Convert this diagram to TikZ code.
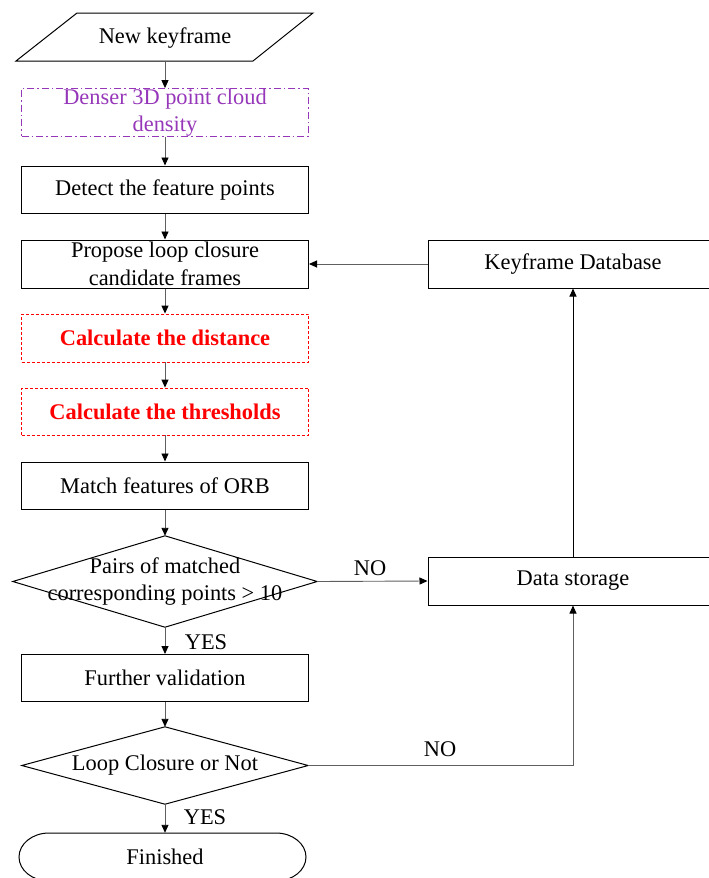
\documentclass[tikz,border=0pt]{standalone}
\usepackage{fontspec}
\setmainfont{Liberation Serif}
\usetikzlibrary{arrows.meta}
\definecolor{purp}{RGB}{150,55,185}
\definecolor{lnk}{RGB}{95,95,95}
\begin{document}
\begin{tikzpicture}[x=1pt,y=-1pt,
  every node/.style={font=\fontsize{22.4}{27.5}\selectfont, align=center, inner sep=0pt},
  box/.style={draw=black, line width=1pt, minimum width=287pt, minimum height=47pt},
  rbox/.style={draw=red, line width=0.9pt, dash pattern=on 3pt off 2pt, minimum width=287pt, minimum height=47pt, text=red, font=\fontsize{22.4}{27.5}\selectfont\bfseries},
  pbox/.style={draw=purp, line width=0.9pt, dash pattern=on 7pt off 3pt on 1.5pt off 3pt, minimum width=287pt, minimum height=47pt, text=purp},
  sbox/.style={draw=black, line width=1pt, minimum width=290pt, minimum height=48pt},
  outline/.style={draw=black, line width=1pt},
  conn/.style={draw=lnk, line width=0.9pt, -{Triangle[length=8pt,width=7pt,color=black]}},
  lbl/.style={font=\fontsize{22.4}{27.5}\selectfont}
]
\useasboundingbox (0,0) rectangle (709,878);
% start
\node[minimum width=236pt, minimum height=48pt] (nk) at (165,38) {New keyframe};
\draw[outline] (77,13) -- (313,13) -- (253,61) -- (16,61) -- cycle;
\node[pbox] (dense) at (165,112.5) {Denser 3D point cloud\\density};
\node[box] (detect) at (165,189.5) {Detect the feature points};
\node[box, minimum height=48pt] (prop) at (165,264) {Propose loop closure\\candidate frames};
\node[rbox, minimum height=48pt] (dist) at (165,338) {Calculate the distance};
\node[rbox] (thr) at (165,411.5) {Calculate the thresholds};
\node[box] (match) at (165,485.5) {Match features of ORB};
\node[minimum width=304pt, minimum height=91pt] (d1) at (165,581.5) {Pairs of matched\\corresponding points > 10};
\draw[outline] (d1.north) -- (d1.east) -- (d1.south) -- (d1.west) -- cycle;
\node[box] (fv) at (165,678) {Further validation};
\node[minimum width=286pt, minimum height=77pt] (d2) at (165,765.5) {Loop Closure or Not};
\draw[outline] (d2.north) -- (d2.east) -- (d2.south) -- (d2.west) -- cycle;
\node[minimum width=287pt, minimum height=48pt] (fin) at (165,857) {Finished};
\draw[outline] (49,833) -- (276,833) arc[start angle=-90, end angle=90, x radius=30, y radius=24] -- (49,881) arc[start angle=90, end angle=270, x radius=30, y radius=24] -- cycle;
\node[sbox] (kdb) at (573,264) {Keyframe Database};
\node[sbox] (ds) at (573,581) {Data storage};
% connectors
\draw[conn] (nk.south) -- (dense.north);
\draw[conn] (dense.south) -- (detect.north);
\draw[conn] (detect.south) -- (prop.north);
\draw[conn] (prop.south) -- (dist.north);
\draw[conn] (dist.south) -- (thr.north);
\draw[conn] (thr.south) -- (match.north);
\draw[conn] (match.south) -- (d1.north);
\draw[conn] (d1.south) -- (fv.north);
\draw[conn] (fv.south) -- (d2.north);
\draw[conn] (d2.south) -- (fin.north);
\draw[conn] (kdb.west) -- (prop.east);
\draw[conn] (d1.east) -- (ds.west);
\draw[conn, draw=black] (ds.north) -- (kdb.south);
\draw[conn] (d2.east) -| (ds.south);
% labels
\node[lbl] (yes1) at (206,642) {YES};
\node[lbl] (yes2) at (205,817) {YES};
\node[lbl] (no1) at (370,568) {NO};
\node[lbl] (no2) at (440,749) {NO};
\end{tikzpicture}
\end{document}
